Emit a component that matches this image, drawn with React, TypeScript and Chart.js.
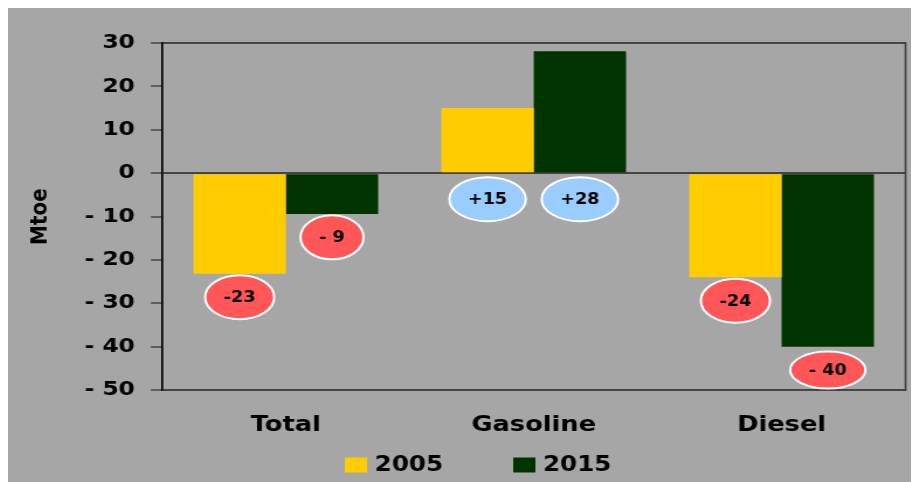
import React, { useEffect, useRef } from 'react';
import { Chart, registerables } from 'chart.js';

Chart.register(...registerables);

const categories = ['Total', 'Gasoline', 'Diesel'];
const seriesNames = ['2005', '2015'];
const values2005 = [-23.2, 15, -24];
const values2015 = [-9.4, 28.1, -40];
const labels2005 = ['-23', '+15', '-24'];
const labels2015 = ['- 9', '+28', '- 40'];
const yMin = -50;
const yMax = 30;
const yStep = 10;
const yTitle = 'Mtoe';

const COLORS = ['#FFCC00', '#003300'];
const FONT = '"DejaVu Sans", "Liberation Sans", Arial, sans-serif';
// the reference is horizontally stretched: render at a narrower bitmap and widen it with CSS
const CSS_W = 911;
const CSS_H = 474;
const CANVAS_W = 779;

const bubblePlugin = {
  id: 'bubbles',
  afterDatasetsDraw(chart: any) {
    const ctx = chart.ctx;
    const yScale = chart.scales.y;
    const area = chart.chartArea;
    const labelSets = [labels2005, labels2015];
    ctx.save();
    ctx.font = `bold 15px ${FONT}`;
    ctx.textAlign = 'center';
    ctx.textBaseline = 'middle';
    chart.data.datasets.forEach((ds: any, i: number) => {
      const meta = chart.getDatasetMeta(i);
      meta.data.forEach((el: any, j: number) => {
        const v = ds.data[j];
        const yVal = v < 0 ? v - 5.4 : -6;
        const y = yScale.getPixelForValue(yVal);
        const x = el.x;
        const text = labelSets[i][j];
        const tw = ctx.measureText(text).width;
        const rx = tw / 2 + 16;
        const ry = Math.min(22, area.bottom - 1.5 - y);
        ctx.beginPath();
        ctx.ellipse(x, y, rx, ry, 0, 0, Math.PI * 2);
        ctx.fillStyle = v < 0 ? '#FF5757' : '#99CCFF';
        ctx.fill();
        ctx.lineWidth = 2;
        ctx.strokeStyle = '#FFFFFF';
        ctx.stroke();
        ctx.fillStyle = '#000000';
        ctx.fillText(text, x, y + 1);
      });
    });
    ctx.restore();
  },
};

const framePlugin = {
  id: 'frame',
  afterDraw(chart: any) {
    const { ctx, chartArea } = chart;
    ctx.save();
    ctx.strokeStyle = '#3d3d3d';
    ctx.lineWidth = 1.6;
    ctx.beginPath();
    ctx.moveTo(chartArea.right, chartArea.top - 1);
    ctx.lineTo(chartArea.right, chartArea.bottom + 1);
    ctx.stroke();
    ctx.restore();
  },
};

const legendPlugin = {
  id: 'customLegend',
  afterDraw(chart: any) {
    const ctx = chart.ctx;
    ctx.save();
    ctx.font = `bold 21px ${FONT}`;
    ctx.textBaseline = 'middle';
    ctx.textAlign = 'left';
    const boxW = 19;
    const boxH = 15;
    const gap = 6.5;
    const itemGap = 60;
    const items = chart.data.datasets.map((ds: any) => ({
      text: ds.label,
      color: ds.backgroundColor,
      w: boxW + gap + ctx.measureText(ds.label).width,
    }));
    const total = items.reduce((s: number, it: any) => s + it.w, 0) + itemGap * (items.length - 1);
    let x = chart.width / 2 + 12.5 - total / 2;
    const cy = 457;
    items.forEach((it: any) => {
      ctx.fillStyle = it.color;
      ctx.fillRect(x, cy - boxH / 2, boxW, boxH);
      ctx.fillStyle = '#000000';
      ctx.fillText(it.text, x + boxW + gap, cy + 1);
      x += it.w + itemGap;
    });
    ctx.restore();
  },
};

export default function App() {
  const ref = useRef<HTMLCanvasElement>(null);

  useEffect(() => {
    document.documentElement.style.overflow = 'hidden';
    const canvas = ref.current;
    if (!canvas) return;
    const gridColor = (c: any) => {
      const v = c.tick && c.tick.value;
      return v === 0 || v === yMax || v === yMin ? '#454545' : 'rgba(0,0,0,0)';
    };
    const chart = new Chart(canvas, {
      type: 'bar',
      data: {
        labels: categories,
        datasets: [
          { label: seriesNames[0], data: values2005, backgroundColor: COLORS[0], borderWidth: 0 },
          { label: seriesNames[1], data: values2015, backgroundColor: COLORS[1], borderWidth: 0 },
        ],
      },
      options: {
        responsive: false,
        animation: false,
        devicePixelRatio: 1,
        layout: { padding: { top: 35, right: 11.5, bottom: 0, left: 0 } },
        datasets: {
          bar: { categoryPercentage: 0.745, barPercentage: 1 },
        },
        plugins: {
          legend: { display: false },
          tooltip: { enabled: false },
        },
        scales: {
          x: {
            grid: { display: false, drawTicks: false },
            border: { display: false },
            ticks: {
              color: '#000000',
              font: { family: FONT, size: 22, weight: 'bold' },
              padding: 22,
            },
            afterFit: (s: any) => {
              s.height = 92;
            },
          },
          y: {
            min: yMin,
            max: yMax,
            ticks: {
              stepSize: yStep,
              color: '#000000',
              font: { family: FONT, size: 20, weight: 'bold' },
              padding: 13.7,
              callback: (v: any) => (v < 0 ? '- ' + Math.abs(v) : String(v)),
            },
            grid: {
              color: gridColor,
              lineWidth: 2,
              tickColor: '#454545',
              tickLength: 9.4,
              tickWidth: 1.5,
            },
            border: { display: true, color: '#000000', width: 1.7 },
            title: {
              display: true,
              text: yTitle,
              color: '#000000',
              font: { family: FONT, size: 20, weight: 'bold' },
              padding: { top: 16, bottom: 0 },
            },
            afterFit: (s: any) => {
              s.width = 131.6;
            },
          },
        },
      },
      plugins: [bubblePlugin, framePlugin, legendPlugin],
    });
    return () => chart.destroy();
  }, []);

  return (
    <div style={{ width: CSS_W, height: CSS_H, background: '#A6A6A6' }}>
      <canvas
        ref={ref}
        width={CANVAS_W}
        height={CSS_H}
        style={{ display: 'block', width: CSS_W, height: CSS_H }}
      />
    </div>
  );
}
